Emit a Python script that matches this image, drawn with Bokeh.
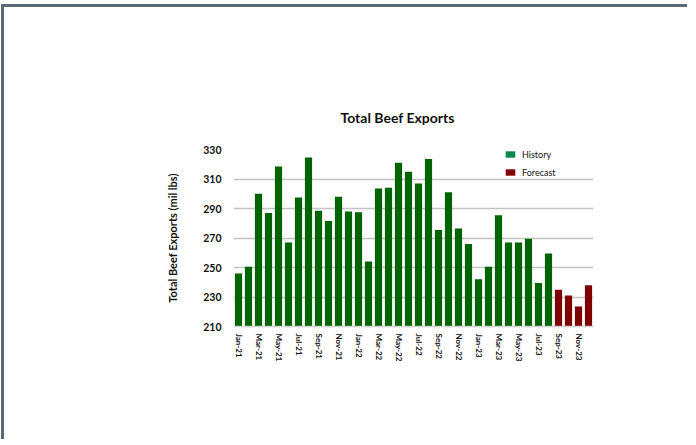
from bokeh.plotting import figure
from bokeh.models import Range1d, FixedTicker, Legend, LegendItem, Spacer
from bokeh.layouts import column, row
from bokeh.embed import file_html
from bokeh.resources import INLINE

months = ["Jan-21", "Feb-21", "Mar-21", "Apr-21", "May-21", "Jun-21", "Jul-21", "Aug-21",
          "Sep-21", "Oct-21", "Nov-21", "Dec-21", "Jan-22", "Feb-22", "Mar-22", "Apr-22",
          "May-22", "Jun-22", "Jul-22", "Aug-22", "Sep-22", "Oct-22", "Nov-22", "Dec-22",
          "Jan-23", "Feb-23", "Mar-23", "Apr-23", "May-23", "Jun-23", "Jul-23", "Aug-23",
          "Sep-23", "Oct-23", "Nov-23", "Dec-23"]
history = [246, 250.5, 300, 287, 318.5, 267, 297.5, 324.5, 288.5, 281.5, 298, 288,
           287.5, 254, 303.5, 304, 321, 315, 307, 323.5, 275.5, 301, 276.5, 266,
           242, 250.5, 285.5, 267, 267, 269.5, 239.5, 259.5]
forecast = [235, 231, 223.5, 238]
y_ticks = [210, 230, 250, 270, 290, 310, 330]

FONT = "Lato"
W, H = 683, 424
FRAME = "#5d6874"
hist_x = list(range(len(history)))
fc_x = list(range(len(history), len(history) + len(forecast)))

p = figure(width=W, height=H, output_backend="svg", toolbar_location=None,
           x_range=Range1d(-0.5, len(months) - 0.5), y_range=Range1d(210, 330),
           min_border_left=229, min_border_right=94, min_border_top=142, min_border_bottom=105,
           margin=0)
p.outline_line_color = None

p.vbar(x=hist_x, top=history, bottom=200, width=0.72, fill_color="#006400", line_color=None)
p.vbar(x=fc_x, top=forecast, bottom=200, width=0.72, fill_color="#7f0000", line_color=None)

# legend swatches (zero-height bars below the visible range)
r_h = p.vbar(x=[0], top=[0], bottom=0, width=0.7, fill_color="#0a8a4a", line_color=None)
r_f = p.vbar(x=[0], top=[0], bottom=0, width=0.7, fill_color="#800000", line_color=None)
leg = Legend(items=[LegendItem(label="History", renderers=[r_h]),
                    LegendItem(label="Forecast", renderers=[r_f])],
             location=(271, 148), orientation="vertical")
leg.padding = 0
leg.margin = 0
leg.spacing = 6
leg.glyph_width = 12
leg.glyph_height = 8
leg.label_height = 12
leg.label_standoff = 6
leg.label_text_font = FONT
leg.label_text_font_size = "9px"
leg.label_text_color = "#111111"
leg.border_line_color = None
leg.background_fill_color = "white"
leg.background_fill_alpha = 1
p.add_layout(leg, "center")

p.title.text = "Total Beef Exports"
p.title.align = "left"
p.title.offset = 107
p.title.standoff = 48
p.title.text_font = FONT
p.title.text_font_size = "14px"
p.title.text_font_style = "bold"
p.title.text_color = "#111111"

# y axis
p.yaxis.ticker = FixedTicker(ticks=y_ticks)
p.yaxis.axis_line_color = None
p.yaxis.major_tick_line_color = None
p.yaxis.major_tick_out = 0
p.yaxis.major_tick_in = 0
p.yaxis.minor_tick_line_color = None
p.yaxis.major_label_standoff = 12
p.yaxis.major_label_text_font = FONT
p.yaxis.major_label_text_font_size = "10.5px"
p.yaxis.major_label_text_font_style = "bold"
p.yaxis.major_label_text_color = "#111111"
p.yaxis.axis_label = "Total Beef Exports (mil lbs)"
p.yaxis.axis_label_text_font = FONT
p.yaxis.axis_label_text_font_size = "11px"
p.yaxis.axis_label_text_font_style = "bold"
p.yaxis.axis_label_text_color = "#111111"
p.yaxis.axis_label_standoff = 21

# x axis
p.xaxis.ticker = FixedTicker(ticks=list(range(0, len(months), 2)))
p.xaxis.major_label_overrides = {i: months[i] for i in range(0, len(months), 2)}
p.xaxis.major_label_orientation = "vertical"
p.xaxis.axis_line_color = "#d0d0d0"
p.xaxis.axis_line_width = 1.5
p.xaxis.major_tick_line_color = None
p.xaxis.major_tick_out = 0
p.xaxis.major_tick_in = 0
p.xaxis.minor_tick_line_color = None
p.xaxis.major_label_standoff = 7
p.xaxis.major_label_text_font = FONT
p.xaxis.major_label_text_font_size = "8px"
p.xaxis.major_label_text_font_style = "bold"
p.xaxis.major_label_text_color = "#111111"

p.xgrid.grid_line_color = None
p.ygrid.grid_line_color = "#c4c4c4"
p.ygrid.grid_line_width = 1.5

# slide frame: top and left edges
top_bar = Spacer(width=W + 3, height=3, margin=0,
                 styles={"background-color": FRAME})
left_bar = Spacer(width=3, height=H + 8, margin=0,
                  styles={"background-color": FRAME})

layout = column(top_bar, row(left_bar, p, spacing=0, margin=0),
                spacing=0, margin=(4, 0, 0, 1))
open("out.html", "w").write(file_html(layout, INLINE))
